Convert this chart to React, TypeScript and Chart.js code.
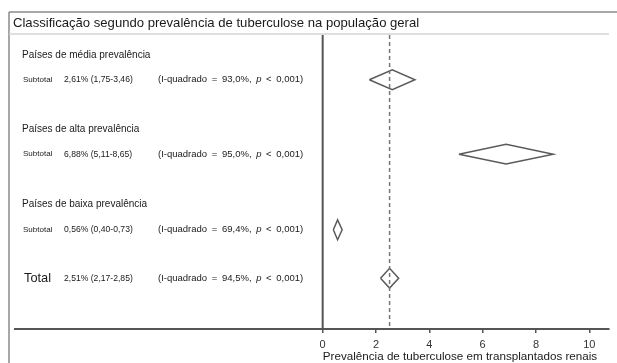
import React, { useEffect, useRef } from "react";
import { Chart, registerables } from "chart.js";

Chart.register(...registerables);

const chartTitle = "Classificação segundo prevalência de tuberculose na população geral";
const xAxisTitle = "Prevalência de tuberculose em transplantados renais";
const groupHeaders = ["Países de média prevalência", "Países de alta prevalência", "Países de baixa prevalência"];
const groupRows = [0, 3, 6];
const rowLabels = ["Subtotal", "Subtotal", "Subtotal", "Total"];
const rowIndex = [1, 4, 7.05, 9];
const estimates = [2.61, 6.88, 0.56, 2.51];
const lowerCI = [1.75, 5.11, 0.4, 2.17];
const upperCI = [3.46, 8.65, 0.73, 2.85];
const iSquared = [93.0, 95.0, 69.4, 94.5];
const pValueText = ["< 0,001", "< 0,001", "< 0,001", "< 0,001"];
const xTicks = [0, 2, 4, 6, 8, 10];
const overallEstimate = 2.51;

const X_MIN = -11.54;
const X_MAX = 10.74;
const Y_MIN = -0.806;
const Y_MAX = 11.05;
const DIAMOND_HALF = 0.4;
const FONT = "'Liberation Sans', Arial, Helvetica, sans-serif";

const fmt = (v: number) => v.toFixed(2).replace(".", ",");
const fmt1 = (v: number) => v.toFixed(1).replace(".", ",");

const decorPlugin = {
  id: "forestDecor",
  beforeDraw(chart: any) {
    const ctx = chart.ctx;
    ctx.save();
    ctx.fillStyle = "#ffffff";
    ctx.fillRect(0, 0, chart.width, chart.height);
    ctx.strokeStyle = "#8a8a8a";
    ctx.lineWidth = 1.5;
    ctx.beginPath();
    ctx.moveTo(9, 12);
    ctx.lineTo(chart.width, 12);
    ctx.moveTo(9, 12);
    ctx.lineTo(9, chart.height);
    ctx.stroke();
    ctx.strokeStyle = "#d4d4d4";
    ctx.beginPath();
    ctx.moveTo(9, 34);
    ctx.lineTo(609, 34);
    ctx.stroke();
    ctx.fillStyle = "#1a1a1a";
    ctx.font = `13.1px ${FONT}`;
    ctx.textBaseline = "middle";
    ctx.textAlign = "left";
    ctx.fillText(chartTitle, 13, 23.5);
    ctx.restore();
  },
  afterDraw(chart: any) {
    const ctx = chart.ctx;
    const y = chart.scales.y;
    ctx.save();
    ctx.fillStyle = "#1a1a1a";
    ctx.textBaseline = "middle";
    ctx.textAlign = "left";
    groupHeaders.forEach((h, i) => {
      ctx.font = `10px ${FONT}`;
      ctx.fillText(h, 22, y.getPixelForValue(groupRows[i]));
    });
    rowLabels.forEach((lab, i) => {
      const py = y.getPixelForValue(rowIndex[i]);
      const isTotal = lab === "Total";
      ctx.font = isTotal ? `12.8px ${FONT}` : `8px ${FONT}`;
      ctx.fillText(lab, isTotal ? 24 : 23, py);
      ctx.font = `8.6px ${FONT}`;
      ctx.fillText(`${fmt(estimates[i])}% (${fmt(lowerCI[i])}-${fmt(upperCI[i])})`, 64, py);
      const tokens: [string, boolean][] = [
        ["(I-quadrado", false],
        ["=", false],
        [`${fmt1(iSquared[i])}%,`, false],
        ["p", true],
        ...pValueText[i].split(" ").map((t, k, arr) => [k === arr.length - 1 ? t + ")" : t, false] as [string, boolean]),
      ];
      let cx = 158;
      ctx.font = `9.5px ${FONT}`;
      const gap = ctx.measureText(" ").width + 2;
      tokens.forEach(([t, ital]) => {
        ctx.font = ital ? `italic 9.5px ${FONT}` : `9.5px ${FONT}`;
        ctx.fillText(t, cx, py);
        cx += ctx.measureText(t).width + gap;
      });
    });
    ctx.font = `11.65px ${FONT}`;
    ctx.textAlign = "center";
    ctx.fillText(xAxisTitle, 460, 356.5);
    ctx.restore();
  },
};

export default function App() {
  const ref = useRef<HTMLCanvasElement | null>(null);
  useEffect(() => {
    if (!ref.current) return;
    const diamondSets = estimates.map((est, i) => ({
      type: "scatter" as const,
      data: [
        { x: lowerCI[i], y: rowIndex[i] },
        { x: est, y: rowIndex[i] - DIAMOND_HALF },
        { x: upperCI[i], y: rowIndex[i] },
        { x: est, y: rowIndex[i] + DIAMOND_HALF },
        { x: lowerCI[i], y: rowIndex[i] },
      ],
      showLine: true,
      borderColor: "#5a5a5a",
      borderWidth: 1.5,
      pointRadius: 0,
      tension: 0,
      fill: false,
    }));
    const chart = new Chart(ref.current, {
      type: "scatter",
      data: {
        datasets: [
          {
            data: [
              { x: 0, y: Y_MIN },
              { x: 0, y: Y_MAX },
            ],
            showLine: true,
            borderColor: "#555",
            borderWidth: 2,
            pointRadius: 0,
          },
          {
            data: [
              { x: overallEstimate, y: Y_MIN },
              { x: overallEstimate, y: Y_MAX },
            ],
            showLine: true,
            borderColor: "#777",
            borderWidth: 1.5,
            borderDash: [4, 3],
            pointRadius: 0,
          },
          ...diamondSets,
        ] as any,
      },
      options: {
        animation: false,
        responsive: false,
        devicePixelRatio: 1,
        layout: { padding: { left: 15, right: 8, top: 35, bottom: 0 } },
        plugins: { legend: { display: false }, tooltip: { enabled: false }, title: { display: false } },
        scales: {
          x: {
            type: "linear",
            min: X_MIN,
            max: X_MAX,
            afterBuildTicks: (scale: any) => {
              scale.ticks = xTicks.map((v) => ({ value: v }));
            },
            afterFit: (scale: any) => {
              scale.height = 34;
            },
            ticks: {
              color: "#333",
              font: { size: 11, family: FONT },
              padding: 5,
              maxRotation: 0,
              autoSkip: false,
            },
            grid: {
              drawOnChartArea: false,
              drawTicks: true,
              tickLength: 4,
              color: "#555",
              lineWidth: 1.5,
            },
            border: { display: true, color: "#555", width: 2 },
          },
          y: {
            type: "linear",
            reverse: true,
            min: Y_MIN,
            max: Y_MAX,
            display: false,
          },
        },
      } as any,
      plugins: [decorPlugin],
    });
    return () => chart.destroy();
  }, []);
  return (
    <canvas
      ref={ref}
      width={617}
      height={363}
      style={{ position: "absolute", left: 0, top: 0, width: 617, height: 363 }}
    />
  );
}
